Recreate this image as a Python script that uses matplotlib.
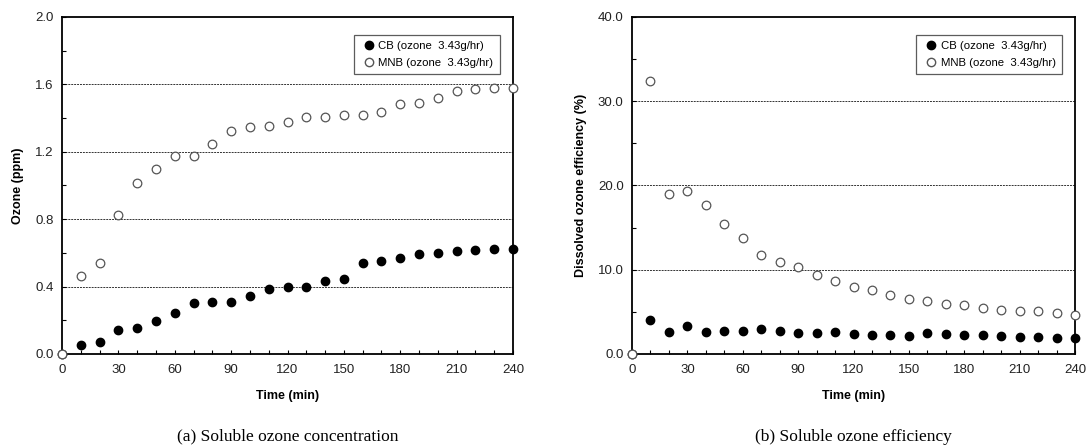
import numpy as np
import matplotlib
matplotlib.use("Agg")
import matplotlib.pyplot as plt
from matplotlib.ticker import MultipleLocator, FormatStrFormatter
from matplotlib.lines import Line2D

plt.rcParams['font.family'] = ['Liberation Sans', 'DejaVu Sans']

time_min = [0, 10, 20, 30, 40, 50, 60, 70, 80, 90, 100, 110, 120, 130, 140, 150,
            160, 170, 180, 190, 200, 210, 220, 230, 240]

# (a) soluble ozone concentration (ppm)
cb_ozone = [0.0, 0.055, 0.071, 0.142, 0.152, 0.198, 0.241, 0.30, 0.31, 0.31, 0.344, 0.388,
            0.398, 0.398, 0.435, 0.447, 0.538, 0.554, 0.572, 0.593, 0.597, 0.609, 0.619,
            0.625, 0.625]
mnb_ozone = [0.0, 0.463, 0.538, 0.827, 1.013, 1.098, 1.175, 1.175, 1.246, 1.321, 1.349,
             1.355, 1.377, 1.405, 1.405, 1.42, 1.42, 1.436, 1.486, 1.492, 1.517, 1.563,
             1.571, 1.577, 1.579]

# (b) soluble ozone efficiency (%)
cb_eff = [0.0, 3.99, 2.57, 3.32, 2.65, 2.76, 2.76, 2.96, 2.68, 2.45, 2.45, 2.57, 2.37,
          2.25, 2.25, 2.13, 2.49, 2.41, 2.25, 2.25, 2.13, 2.05, 2.05, 1.93, 1.86]
mnb_eff = [0.0, 32.45, 19.03, 19.31, 17.73, 15.44, 13.74, 11.77, 10.9, 10.38, 9.36, 8.65,
           8.01, 7.58, 7.03, 6.55, 6.24, 5.92, 5.84, 5.45, 5.25, 5.13, 5.05, 4.86, 4.66]

cb_label = "CB (ozone  3.43g/hr)"
mnb_label = "MNB (ozone  3.43g/hr)"


def draw_panel(ax, cb, mnb, ymax, ymajor, yminor, grid_vals, yfmt, ylabel, caption):
    ax.plot(time_min, cb, 'o', color='black', markersize=6, clip_on=False, zorder=3)
    ax.plot(time_min, mnb, 'o', markerfacecolor='white', markeredgecolor='#555555',
            markeredgewidth=0.9, markersize=6.2, clip_on=False, zorder=4)

    for g in grid_vals:
        ax.axhline(g, color='#333333', linestyle=(0, (2, 1)), linewidth=0.7, zorder=1)

    ax.set_xlim(0, 240)
    ax.set_ylim(0, ymax)
    ax.xaxis.set_major_locator(MultipleLocator(30))
    ax.xaxis.set_minor_locator(MultipleLocator(10))
    ax.yaxis.set_major_locator(MultipleLocator(ymajor))
    ax.yaxis.set_minor_locator(MultipleLocator(yminor))
    ax.yaxis.set_major_formatter(FormatStrFormatter(yfmt))
    ax.tick_params(which='both', direction='in', length=3, width=0.8, labelsize=9.5,
                   colors='black', labelcolor='#222222')
    ax.tick_params(axis='x', which='major', pad=7)
    ax.tick_params(axis='y', which='major', pad=6)
    for s in ax.spines.values():
        s.set_linewidth(1.3)

    ax.set_xlabel("Time (min)", fontsize=9, fontweight='bold', labelpad=10)
    ax.set_ylabel(ylabel, fontsize=9, fontweight='bold', labelpad=8)

    handles = [
        Line2D([], [], marker='o', linestyle='none', color='black', markersize=6),
        Line2D([], [], marker='o', linestyle='none', markerfacecolor='white',
               markeredgecolor='#555555', markersize=6),
    ]
    leg = ax.legend(handles, [cb_label, mnb_label], loc='upper right', fontsize=8.2,
                    frameon=True, fancybox=False, edgecolor='#333333',
                    handletextpad=0.0, handlelength=1.6, borderpad=0.55,
                    labelspacing=0.55, bbox_to_anchor=(0.983, 0.963))
    leg.get_frame().set_linewidth(0.9)

    ax.text(0.5, -0.245, caption, transform=ax.transAxes, ha='center', va='center',
            fontsize=12.5, family=['Liberation Serif', 'DejaVu Serif'])


fig = plt.figure(figsize=(10.86, 4.48), dpi=100)
ax1 = fig.add_axes([62 / 1086, 1 - 354 / 448, (513 - 62) / 1086, (354 - 17) / 448])
ax2 = fig.add_axes([632 / 1086, 1 - 354 / 448, (1075 - 632) / 1086, (354 - 17) / 448])

draw_panel(ax1, cb_ozone, mnb_ozone, 2.0, 0.4, 0.2, [0.4, 0.8, 1.2, 1.6], '%.1f',
           "Ozone (ppm)", "(a) Soluble ozone concentration")
draw_panel(ax2, cb_eff, mnb_eff, 40.0, 10.0, 5.0, [10, 20, 30], '%.1f',
           "Dissolved ozone efficiency (%)", "(b) Soluble ozone efficiency")

fig.savefig("out.png", dpi=100)
